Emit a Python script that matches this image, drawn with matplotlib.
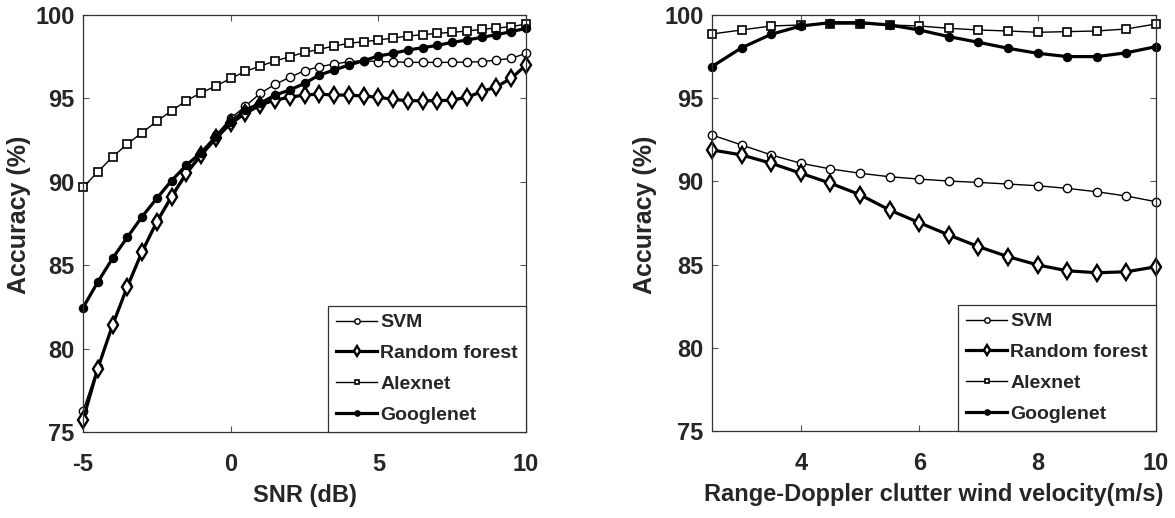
import matplotlib
matplotlib.use("Agg")
import matplotlib.pyplot as plt

plt.rcParams["axes.unicode_minus"] = False

# ---------------- data ----------------
snr_db = [-5, -4.5, -4, -3.5, -3, -2.5, -2, -1.5, -1, -0.5, 0, 0.5, 1, 1.5, 2, 2.5,
          3, 3.5, 4, 4.5, 5, 5.5, 6, 6.5, 7, 7.5, 8, 8.5, 9, 9.5, 10]
snr_svm = [76.26, 78.9, 81.5, 83.8, 85.9, 87.7, 89.2, 90.6, 91.7, 92.8, 93.8, 94.54, 95.3,
           95.84, 96.26, 96.66, 96.9, 97.06, 97.2, 97.26, 97.2, 97.2, 97.16, 97.16, 97.16,
           97.16, 97.18, 97.2, 97.3, 97.4, 97.7]
snr_rf = [75.72, 78.8, 81.4, 83.7, 85.8, 87.6, 89.1, 90.5, 91.6, 92.6, 93.5, 94.1, 94.6,
          94.9, 95.07, 95.2, 95.26, 95.2, 95.2, 95.14, 95.07, 94.94, 94.86, 94.86, 94.86,
          94.9, 95.07, 95.4, 95.7, 96.2, 97.0]
snr_alex = [89.67, 90.59, 91.49, 92.27, 92.94, 93.63, 94.26, 94.86, 95.34, 95.74, 96.2,
            96.62, 96.94, 97.24, 97.5, 97.76, 97.94, 98.14, 98.3, 98.4, 98.5, 98.62, 98.74,
            98.82, 98.9, 98.96, 99.04, 99.14, 99.22, 99.3, 99.46]
snr_google = [82.45, 83.99, 85.41, 86.67, 87.91, 89.01, 90.07, 91.0, 91.75, 92.7, 93.6,
              94.3, 94.7, 95.2, 95.5, 95.9, 96.4, 96.7, 97.0, 97.26, 97.54, 97.7, 97.9,
              98.04, 98.18, 98.36, 98.5, 98.66, 98.82, 99.0, 99.2]

wind = [2.5, 3, 3.5, 4, 4.5, 5, 5.5, 6, 6.5, 7, 7.5, 8, 8.5, 9, 9.5, 10]
wind_svm = [92.79, 92.19, 91.59, 91.09, 90.75, 90.49, 90.28, 90.14, 90.02, 89.94, 89.84,
            89.74, 89.58, 89.38, 89.12, 88.78]
wind_rf = [91.89, 91.59, 91.09, 90.49, 89.89, 89.2, 88.28, 87.52, 86.78, 86.08, 85.48,
           84.98, 84.63, 84.51, 84.57, 84.87]
wind_alex = [98.86, 99.1, 99.34, 99.4, 99.46, 99.46, 99.4, 99.34, 99.2, 99.1, 99.04, 98.96,
             99.0, 99.04, 99.16, 99.46]
wind_google = [96.9, 98.03, 98.84, 99.34, 99.54, 99.54, 99.4, 99.1, 98.7, 98.36, 98.0, 97.7,
               97.5, 97.5, 97.73, 98.1]

labels = ["SVM", "Random forest", "Alexnet", "Googlenet"]
yticks = [75, 80, 85, 90, 95, 100]
snr_ticks = [-5, 0, 5, 10]
wind_ticks = [4, 6, 8, 10]

# ---------------- style ----------------
TXT = "#262626"
FONT = ["Liberation Sans", "DejaVu Sans"]

styles = [
    dict(marker="o", lw=1.0, ms=6, mfc="white", mew=1.0),
    dict(marker="d", lw=2.3, ms=8, mfc="white", mew=1.7),
    dict(marker="s", lw=1.0, ms=5.2, mfc="white", mew=1.2),
    dict(marker="o", lw=2.3, ms=5.8, mfc="black", mew=1.0),
]

fig = plt.figure(figsize=(11.75, 5.18), dpi=100)
ax1 = fig.add_axes([83 / 1175, 1 - 432 / 518, 443 / 1175, 417 / 518])
ax2 = fig.add_axes([712 / 1175, 1 - 431 / 518, 444 / 1175, 416 / 518])


def draw(ax, x, series, xlim, xticks, xlabel, ylab_x):
    for ys, st, lab in zip(series, styles, labels):
        ax.plot(x, ys, color="black", mec="black", label=lab, clip_on=False, **st)
    ax.set_xlim(*xlim)
    ax.set_ylim(75, 100)
    ax.set_xticks(xticks)
    ax.set_yticks(yticks)
    ax.tick_params(direction="in", top=True, right=True, length=4, width=0.8,
                   color="#555555", labelcolor=TXT)
    ax.tick_params(axis="x", pad=15)
    ax.tick_params(axis="y", pad=6)
    for lbl in ax.get_xticklabels() + ax.get_yticklabels():
        lbl.set_fontfamily(FONT)
        lbl.set_fontweight("bold")
        lbl.set_fontsize(17)
    for sp in ax.spines.values():
        sp.set_color("#333333")
        sp.set_linewidth(0.9)
    ax.set_xlabel(xlabel, family=FONT, fontweight="bold", fontsize=17, color=TXT,
                  labelpad=6)
    ax.set_ylabel("Accuracy (%)", family=FONT, fontweight="bold", fontsize=18,
                  color=TXT)
    ax.yaxis.set_label_coords(ylab_x, 0.52)
    leg = ax.legend(loc="lower right", borderaxespad=0, fancybox=False, framealpha=1,
                    edgecolor="#333333", markerscale=0.65, handlelength=2.1,
                    handletextpad=0.15, labelspacing=0.68, borderpad=0.42,
                    prop=dict(family=FONT, weight="bold", size=14))
    leg.get_frame().set_linewidth(0.9)
    for t in leg.get_texts():
        t.set_color(TXT)


draw(ax1, snr_db, [snr_svm, snr_rf, snr_alex, snr_google], (-5, 10), snr_ticks,
     "SNR (dB)", -0.117)
draw(ax2, wind, [wind_svm, wind_rf, wind_alex, wind_google], (2.5, 10), wind_ticks,
     "Range-Doppler clutter wind velocity(m/s)", -0.124)

fig.savefig("out.png", dpi=100)
